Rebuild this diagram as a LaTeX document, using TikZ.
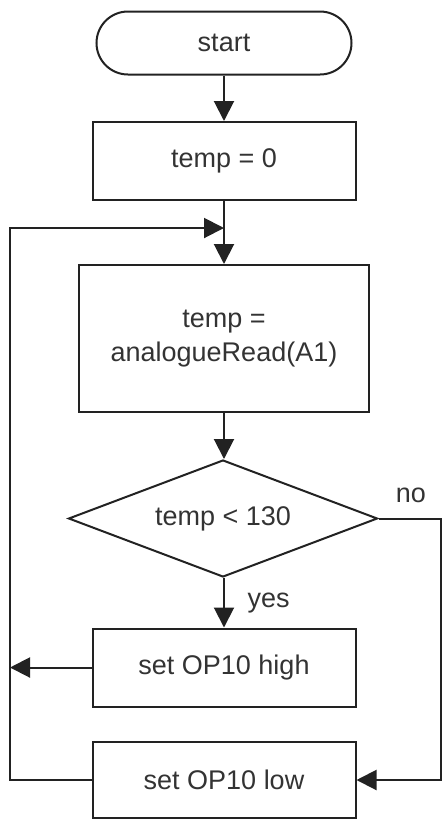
\documentclass[tikz,border=0pt]{standalone}
\usepackage{fontspec}
\setmainfont{Liberation Sans}
\usepackage{xcolor}
\usetikzlibrary{shapes.geometric, shapes.misc, arrows.meta, positioning}
\definecolor{LineGray}{RGB}{34,34,34}
\definecolor{TextGray}{RGB}{51,51,51}

\tikzset{
  flowbox/.style={draw=LineGray, line width=1pt, rectangle, inner sep=0pt,
                  minimum width=131.5pt, minimum height=39pt, align=center, text=TextGray},
  flowterm/.style={draw=LineGray, line width=1pt, rounded rectangle, inner sep=0pt,
                   minimum width=127.5pt, minimum height=31.5pt, text=TextGray},
  flowtest/.style={draw=LineGray, line width=1pt, diamond, aspect=2.6, inner sep=0pt,
                   minimum width=154.5pt, minimum height=58.5pt, text=TextGray},
  flowline/.style={draw=LineGray, line width=1pt, -{Triangle[length=10pt, width=10pt]}},
  flowrail/.style={draw=LineGray, line width=1pt}
}

\begin{document}
\begin{tikzpicture}[x=0.5pt, y=-0.5pt, font=\fontsize{13.5}{17}\selectfont]
\useasboundingbox (0,0) rectangle (443,821);

% Steps
\node[flowterm] (start) at (224,43) {start};
\node[flowbox] (init) at (224,161) {temp = 0};
\node[flowbox, minimum width=145pt, minimum height=73.5pt] (read) at (224,338.5) {temp =\\analogueRead(A1)};
\node[flowtest] (test) at (223,518.5) {temp < 130};
\node[flowbox] (high) at (224,667.5) {set OP10 high};
\node[flowbox, minimum height=38pt] (low) at (224,780) {set OP10 low};

% Rail points
\coordinate (loopin) at (224,228);
\coordinate (railtop) at (10,228);
\coordinate (railbot) at (10,780);
\coordinate (noturn) at (441,518.5);
\coordinate (nodown) at (441,780);

% Main flow
\draw[flowline] (start) -- (init);
\draw[flowline] (init) -- (read);
\draw[flowline] (read) -- (read |- test.north);
\draw[flowline] (test.south -| high.north) -- node[right, xshift=8pt, text=TextGray] {yes} (high);

% No branch
\draw[flowline] (test.east) -- (noturn) -- (nodown) -- (low.east);
\node[text=TextGray] (nolabel) at (411,495) {no};

% Back to the loop
\draw[flowline] (high.west) -- (high.west -| railbot);
\draw[flowline] (low.west) -- (railbot) -- (railtop) -- (loopin);

\end{tikzpicture}
\end{document}
